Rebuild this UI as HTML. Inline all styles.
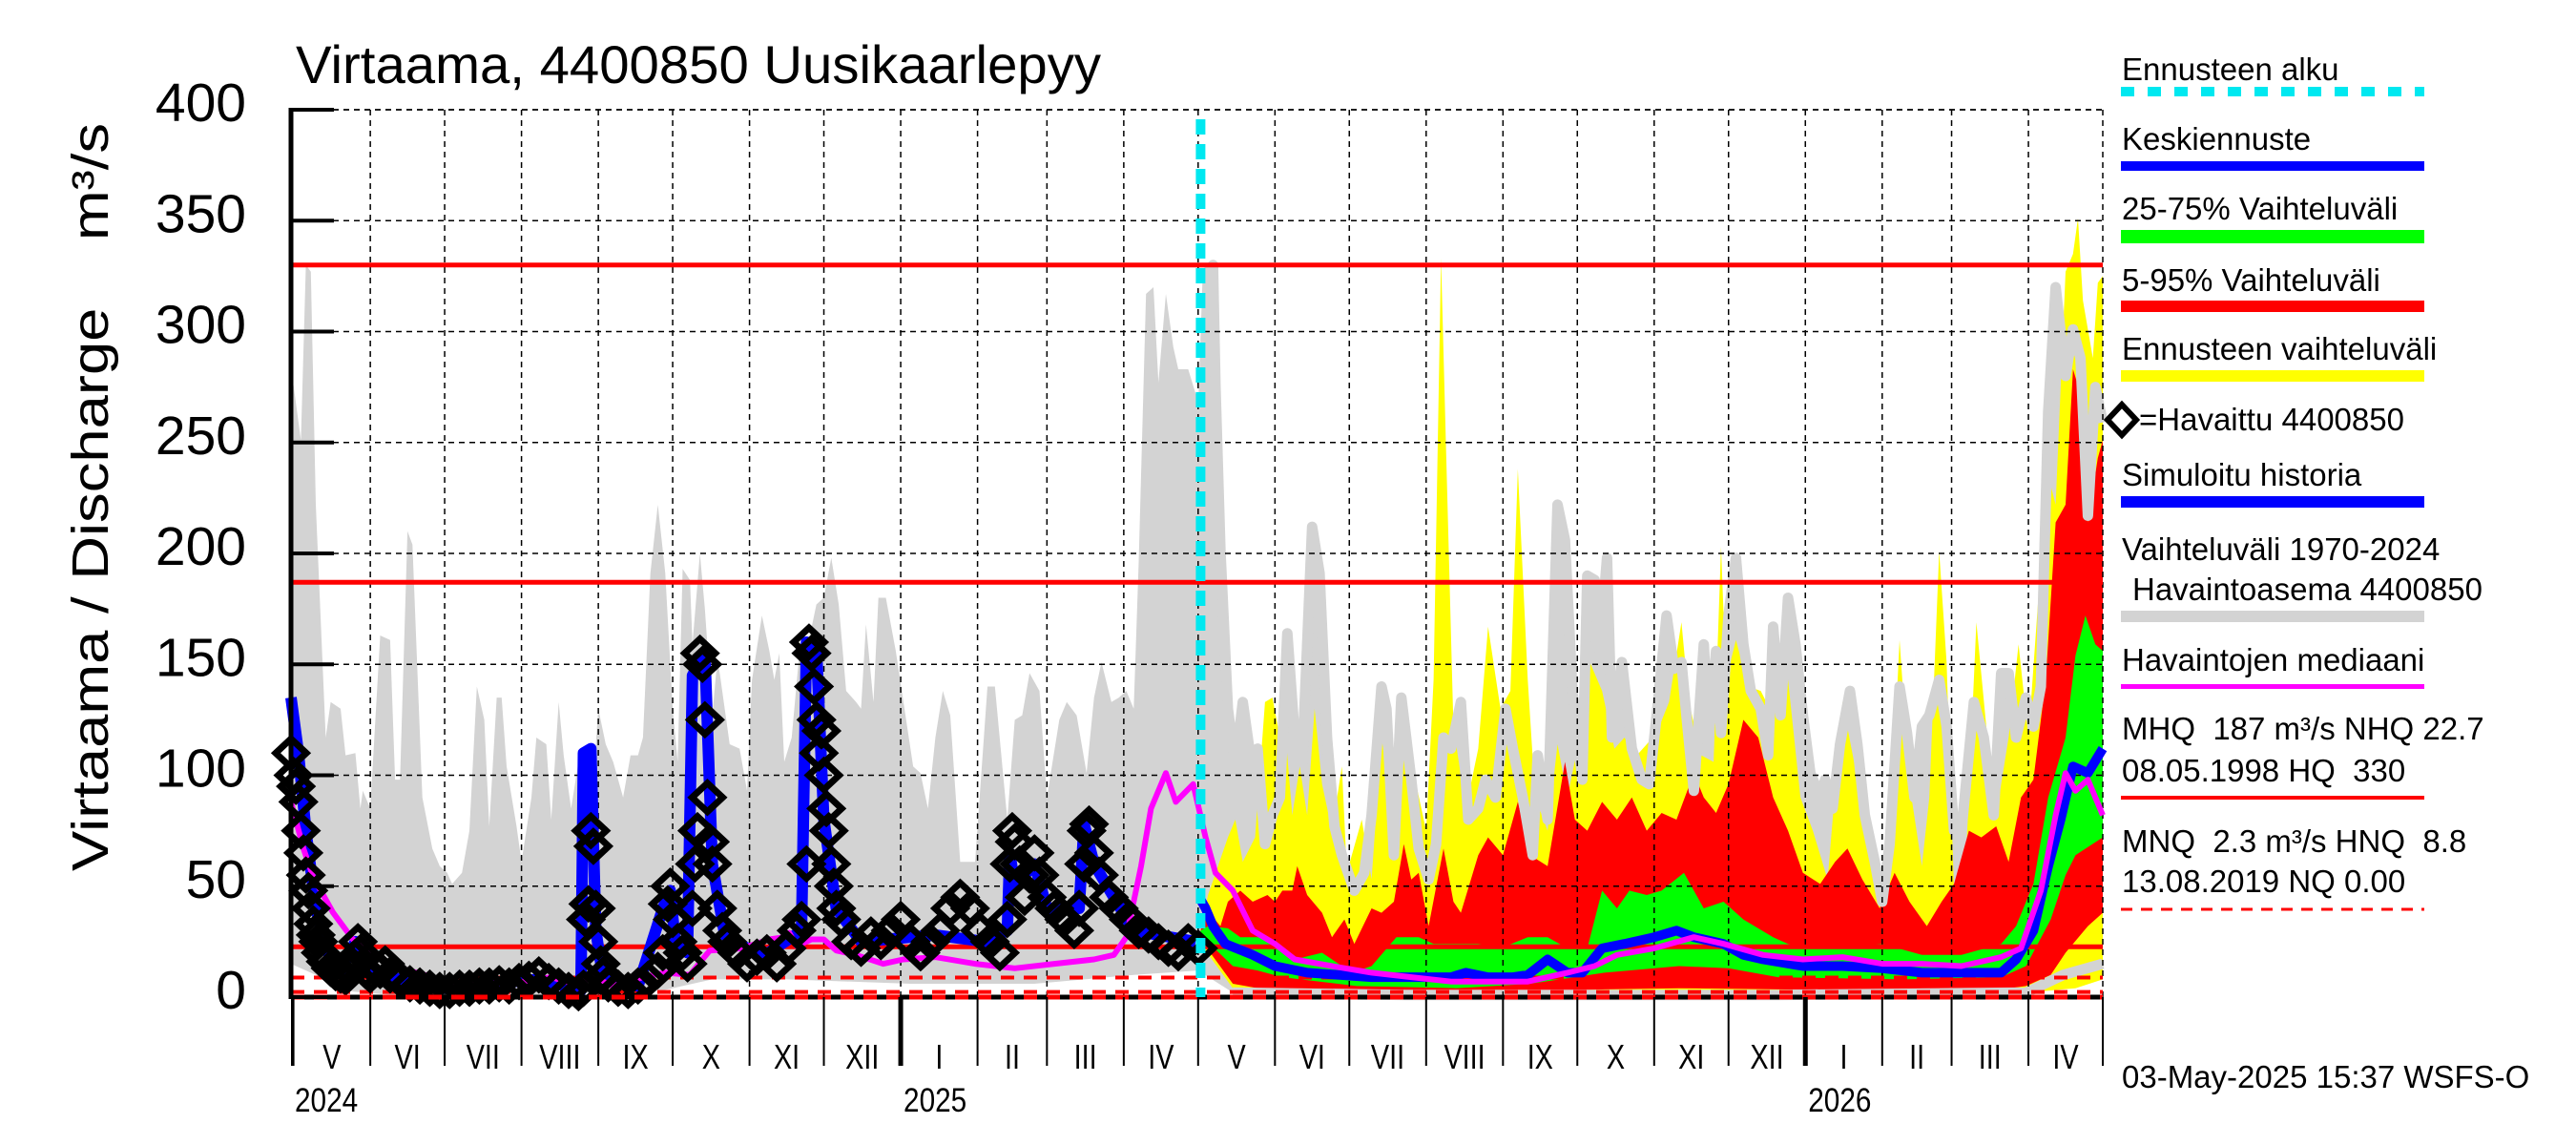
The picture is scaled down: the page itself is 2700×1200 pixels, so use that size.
<!DOCTYPE html>
<html><head><meta charset="utf-8"><title>Virtaama 4400850 Uusikaarlepyy</title>
<style>
html,body{margin:0;padding:0;background:#fff;}
svg{display:block;font-family:"Liberation Sans",sans-serif;}
</style></head>
<body>
<svg id="chart" width="2700" height="1200" viewBox="0 0 2700 1200" xmlns="http://www.w3.org/2000/svg">
<rect x="0" y="0" width="2700" height="1200" fill="#fff"/>
<g id="plot"></g>
<text x="310" y="87" font-size="56" textLength="844" lengthAdjust="spacingAndGlyphs">Virtaama, 4400850 Uusikaarlepyy</text>
<text transform="translate(113,521) rotate(-90)" text-anchor="middle" font-size="54" textLength="784" lengthAdjust="spacingAndGlyphs" xml:space="preserve">Virtaama / Discharge    m³/s</text>
<g id="yticks"></g>
<g id="xticks"></g>
<g id="legend" font-size="33">
  <text x="2224" y="84">Ennusteen alku</text>
  <line x1="2223" y1="96" x2="2541" y2="96" stroke="#00e8f0" stroke-width="10" stroke-dasharray="14,14"/>
  <text x="2224" y="157">Keskiennuste</text>
  <rect x="2223" y="169" width="318" height="10" fill="#0000ff"/>
  <text x="2224" y="230">25-75% Vaihteluväli</text>
  <rect x="2223" y="241" width="318" height="14" fill="#00ff00"/>
  <text x="2224" y="305">5-95% Vaihteluväli</text>
  <rect x="2223" y="315" width="318" height="12" fill="#ff0000"/>
  <text x="2224" y="377">Ennusteen vaihteluväli</text>
  <rect x="2223" y="388" width="318" height="12" fill="#ffff00"/>
  <path d="M2224,424 L2239,440 L2224,456 L2209,440 Z" fill="none" stroke="#000" stroke-width="6"/>
  <text x="2242" y="451">=Havaittu 4400850</text>
  <text x="2224" y="509">Simuloitu historia</text>
  <rect x="2223" y="520" width="318" height="12" fill="#0000ff"/>
  <text x="2224" y="587">Vaihteluväli 1970-2024</text>
  <text x="2235" y="629">Havaintoasema 4400850</text>
  <rect x="2223" y="640" width="318" height="12" fill="#d3d3d3"/>
  <text x="2224" y="703">Havaintojen mediaani</text>
  <rect x="2223" y="717" width="318" height="5" fill="#ff00ff"/>
  <text x="2224" y="775" xml:space="preserve">MHQ  187 m³/s NHQ 22.7</text>
  <text x="2224" y="819" xml:space="preserve">08.05.1998 HQ  330</text>
  <rect x="2223" y="834" width="318" height="4" fill="#ff0000"/>
  <text x="2224" y="893" xml:space="preserve">MNQ  2.3 m³/s HNQ  8.8</text>
  <text x="2224" y="935">13.08.2019 NQ 0.00</text>
  <line x1="2223" y1="953" x2="2541" y2="953" stroke="#ff0000" stroke-width="3" stroke-dasharray="12,9"/>
  <text x="2224" y="1140">03-May-2025 15:37 WSFS-O</text>
</g>
</svg>
<script>
// ---- data (day index from 30.04.2024, values m3/s) ----
const yTickValues = [0,50,100,150,200,250,300,350,400];
const monthLabels = ["V","VI","VII","VIII","IX","X","XI","XII","I","II","III","IV","V","VI","VII","VIII","IX","X","XI","XII","I","II","III","IV"];
const monthStarts = [1,32,62,93,124,154,185,215,246,277,305,336,366,397,427,458,489,519,550,580,611,642,670,701,731];
const yearLabels = ["2024","2025","2026"];
const yearStarts = [1,246,611];
const refLevels = [330,187,22.7];
const refDashedLevels = [8.8,2.3];
const forecastStartDay = 367;

const histMaxDays = [0,1,4,6,8,10,14,16,20,22,26,28,29,32,36,40,42,44,47,49,53,57,60,63,65,69,72,75,78,80,83,85,87,91,93,97,99,103,105,108,110,113,116,119,120,124,127,130,134,137,140,142,145,148,151,154,156,158,161,162,165,167,170,172,173,177,181,184,186,190,193,195,197,199,202,205,209,212,215,218,221,224,228,230,232,235,237,240,244,251,254,257,260,263,266,270,276,281,284,289,292,295,298,302,305,310,313,317,321,324,327,331,334,337,340,342,345,348,350,353,356,358,362,365,368,370,372,373,375,378,381,384,387,390,393,396,399,402,405,408,412,415,418,421,424,429,433,436,440,442,445,448,452,455,459,462,465,468,472,475,479,482,486,490,493,497,501,503,507,511,514,517,521,523,526,528,531,533,537,541,545,548,551,555,558,561,563,566,570,572,575,577,580,583,586,589,593,596,598,601,604,607,610,613,617,619,622,625,629,632,635,639,642,645,649,652,655,658,661,665,668,671,674,679,683,687,690,693,696,700,703,706,709,712,716,719,722,725,728,731];
const histMax = [251,276,251,330,327,222,117,133,130,109,110,85,93,85,163,161,98,98,210,204,90,67,59,56,51,56,75,140,125,77,135,135,104,77,61,90,117,114,80,133,109,85,106,85,64,130,114,106,90,109,109,117,191,222,191,130,106,193,188,159,200,175,127,152,146,114,112,93,143,172,156,143,155,106,117,154,161,177,180,198,177,138,133,130,168,133,180,180,156,104,101,85,117,138,127,61,61,140,140,80,125,127,146,138,90,125,133,127,101,135,151,133,135,138,130,196,317,320,277,317,293,283,283,272,262,327,330,275,201,130,104,133,109,112,69,82,90,164,117,106,212,191,117,77,64,48,56,82,140,130,64,135,98,67,53,69,117,112,133,80,85,98,90,130,112,90,64,109,80,222,206,138,98,190,188,156,198,117,151,112,98,96,127,172,148,151,127,93,159,117,156,119,172,198,159,138,130,109,167,127,180,159,127,101,90,98,85,114,138,114,82,61,43,69,140,119,90,122,127,143,122,75,75,133,117,82,146,146,117,135,122,140,264,320,280,301,288,217,275,259];
const histMinDays = [0,10,20,40,100,150,170,200,250,300,340,366,380,450,600,700,715,731];
const histMin = [15,10,3,1,1,3,8,8,6,6,10,12,2,1,1,2,10,15];

const obsDays = [0,1,2,3,4,5,6,7,8,9,10,11,12,14,16,18,20,22,24,26,27,28,30,32,34,36,38,40,44,48,52,56,60,64,68,72,76,80,84,88,92,96,100,104,108,112,116,118,119,120,121,122,123,124,125,126,128,132,136,140,144,148,150,152,153,154,156,158,160,162,163,164,165,166,167,168,169,170,172,174,176,180,184,188,192,196,200,204,206,208,209,210,211,212,213,214,215,216,217,218,219,220,222,226,230,234,238,242,246,250,254,258,262,266,270,274,278,282,286,289,290,291,292,294,296,298,300,302,305,308,312,316,318,320,321,322,324,326,330,334,338,342,346,350,354,358,362,366];
const obsValues = [110,100,95,88,75,65,55,48,40,33,28,25,20,16,13,11,10,9,12,18,25,20,12,10,13,12,15,10,8,6,5,4,3,3,4,4,5,5,6,5,7,8,10,7,5,3,2,4,35,42,75,68,40,25,15,10,6,4,3,5,8,12,20,42,50,35,25,20,15,40,60,75,155,150,125,90,70,60,40,30,25,20,15,18,20,15,22,30,35,60,160,155,140,125,110,120,100,85,75,60,50,40,35,25,22,28,25,30,35,25,20,25,30,40,45,40,30,25,20,35,60,75,70,60,45,55,65,55,45,40,35,30,40,60,75,78,65,55,45,40,35,30,28,25,22,20,25,22];

const simDays = [0,3,6,10,15,20,26,30,40,60,100,117,118,121,123,126,140,150,153,155,160,162,167,170,175,190,206,208,212,215,220,230,260,280,289,290,292,300,305,318,320,324,340,365];
const simValues = [135,110,75,40,20,12,25,12,9,4,8,3,110,112,30,8,5,40,48,25,20,145,155,60,28,18,30,160,158,80,40,25,28,25,30,65,50,60,40,40,78,60,30,25];

const medianDays = [0,5,9,17,25,33,44,54,62,78,94,105,114,122,130,142,151,161,166,169,182,193,199,201,204,210,215,220,228,239,247,260,276,292,308,324,332,337,343,347,353,357,364,369,373,380,388,397,405,420,436,452,468,483,499,515,526,535,550,566,578,594,610,626,642,658,674,690,698,706,712,716,720,725,731];
const medianValues = [88,67,54,38,26,19,13,10,6,6,7,9,6,9,5,9,11,10,17,21,22,26,27,29,23,26,26,21,19,15,17,18,15,13,15,17,19,27,59,85,101,88,96,72,56,48,30,24,17,14,11,9,7,7,7,11,14,19,22,27,24,19,17,18,15,15,14,18,22,48,82,101,93,98,82];

const fcMaxDays = [367,370,378,381,384,389,393,396,399,401,404,407,410,413,416,420,424,426,432,436,440,445,448,453,458,461,464,466,469,474,479,483,488,492,495,499,502,507,511,515,519,524,529,534,538,543,547,551,556,561,564,569,574,577,579,583,588,593,598,604,609,614,620,626,631,636,641,645,649,653,658,661,665,668,671,676,680,684,688,693,697,701,706,709,712,716,719,721,723,727,729,731];
const fcMax = [32,46,72,80,61,72,133,135,117,122,82,104,82,130,96,75,104,56,80,53,117,80,119,101,75,143,333,248,122,85,112,167,130,138,238,143,90,75,114,90,112,151,138,112,117,109,114,119,133,169,133,109,106,203,143,161,140,138,127,143,90,75,53,133,104,80,43,69,161,96,59,90,201,151,48,67,169,122,82,117,159,117,196,235,222,327,335,351,314,288,322,325];
const p95Days = [367,369,375,378,383,388,394,397,400,404,406,410,416,420,425,429,436,440,445,449,452,455,459,465,469,472,479,483,489,495,500,507,514,518,523,529,535,541,547,553,559,566,570,575,580,586,592,598,604,610,617,623,628,634,641,647,653,660,666,671,677,682,688,693,698,703,708,712,716,719,722,725,729,731];
const p95 = [30,40,32,43,48,43,46,43,48,48,59,46,38,27,35,24,40,38,43,69,53,56,32,67,43,38,64,72,64,88,64,59,106,80,75,88,80,90,75,83,80,101,90,83,96,125,117,90,75,56,51,61,67,53,40,56,43,32,43,51,75,72,77,61,90,98,143,214,222,283,272,214,243,251];
const p75Days = [367,370,378,383,391,397,405,416,428,436,446,455,461,471,479,488,499,507,515,523,529,535,540,547,553,562,570,578,586,598,604,610,626,642,658,674,690,696,703,709,716,720,724,728,731];
const p75 = [30,32,31,27,27,24,17,20,11,14,27,27,24,24,24,22,27,27,22,22,48,40,48,46,48,56,40,43,35,27,24,22,22,24,19,19,24,32,51,90,117,154,172,159,156];
const p25Days = [367,380,390,400,430,470,500,530,560,580,600,650,690,700,710,716,720,731];
const p25 = [28,14,12,9,5,4,6,11,14,13,9,8,9,14,35,55,64,72];
const p5Days = [367,380,400,450,500,530,560,600,650,690,700,710,716,725,731];
const p5 = [26,6,2,1.5,2.5,3.5,4,3.5,3,3.5,5,10,20,32,38];
const fcMinDays = [367,380,400,450,500,600,700,720,731];
const fcMin = [24,4,1,0.5,1,1,2,4,8];
const fcMeanDays = [367,369,372,377,388,397,410,423,436,452,468,474,483,493,499,507,515,521,529,538,550,559,566,578,586,594,610,626,642,658,674,690,696,703,709,714,719,725,731];
const fcMean = [44,40,32,24,19,14,11,10,9,9,9,11,9,9,10,17,11,11,22,24,27,30,27,24,19,17,14,14,13,11,11,11,17,30,59,80,104,101,112];

// ---- axes ----
const X0=305, X1=2204, Y0=1045, Y1=115, DMAX=731, VMAX=400;
function X(d){return X0+(X1-X0)*d/DMAX;}
function Y(v){return Y0-(Y0-Y1)*v/VMAX;}
const NS="http://www.w3.org/2000/svg";
const plot=document.getElementById('plot');
function mk(tag,attrs,parent){const e=document.createElementNS(NS,tag);for(const k in attrs)e.setAttribute(k,attrs[k]);(parent||plot).appendChild(e);return e;}
function pts(days,vals){return days.map((d,i)=>X(d).toFixed(1)+","+Y(vals[i]).toFixed(1));}
function band(daysTop,top,daysBot,bot,color,name){
  const a=pts(daysTop,top); const b=pts(daysBot,bot).reverse();
  const p=mk('polygon',{points:a.concat(b).join(' '),fill:color});
  
  
}
function line(days,vals,color,w,name){
  const p=mk('polyline',{points:pts(days,vals).join(' '),fill:'none',stroke:color,'stroke-width':w,'stroke-linejoin':'round'});
  
  
}

band(histMaxDays,histMax,histMinDays,histMin,'#d3d3d3','historical-range-band');
band(fcMaxDays,fcMax,fcMinDays,fcMin,'#ffff00','forecast-range-band');
band(p95Days,p95,p5Days,p5,'#ff0000','band-5-95');
band(p75Days,p75,p25Days,p25,'#00ff00','band-25-75');
(function(){
  const fd=[],fv=[];
  histMaxDays.forEach((d,i)=>{if(d>=forecastStartDay-2){fd.push(d);fv.push(histMax[i]);}});
  line(fd,fv,'#d3d3d3',11,'historical-max-line');
  const md=[],mv=[];
  histMinDays.forEach((d,i)=>{if(d>=forecastStartDay){md.push(d);mv.push(histMin[i]);}});
  line(md,mv,'#d3d3d3',11,'historical-min-line');
})();

for(let i=0;i<yTickValues.length;i++){
  const v=yTickValues[i]; if(v===0) continue;
  const g=mk('line',{x1:X0,x2:X1,y1:Y(v),y2:Y(v),stroke:'#000','stroke-width':1.5,'stroke-dasharray':'6,5'});
  
  
}
for(let i=1;i<monthStarts.length-1;i++){
  const x=X(monthStarts[i]);
  const g=mk('line',{x1:x,x2:x,y1:Y1,y2:Y0,stroke:'#000','stroke-width':1.5,'stroke-dasharray':'6,5'});
  
  
}
const rb=mk('line',{x1:X1,x2:X1,y1:Y1,y2:Y0,stroke:'#000','stroke-width':1.5,'stroke-dasharray':'6,5'});


const tb=mk('line',{x1:X0,x2:X1,y1:Y1,y2:Y1,stroke:'#000','stroke-width':1.5,'stroke-dasharray':'6,5'});



refLevels.forEach(v=>{
  const l=mk('line',{x1:X0,x2:X1,y1:Y(v),y2:Y(v),stroke:'#ff0000','stroke-width':5});
  
  
});
refDashedLevels.forEach(v=>{
  const l=mk('line',{x1:X0,x2:X1,y1:Y(v),y2:Y(v),stroke:'#ff0000','stroke-width':4,'stroke-dasharray':'14,10'});
  
  
});

line(simDays,simValues,'#0000ff',12,'simulated-history-line');
line(fcMeanDays,fcMean,'#0000ff',10,'mean-forecast-line');
line(medianDays,medianValues,'#ff00ff',6,'observed-median-line');

obsDays.forEach((d,i)=>{
  const x=X(d), y=Y(obsValues[i]);
  const p=mk('path',{d:`M${x},${y-15} L${x+16},${y} L${x},${y+15} L${x-16},${y} Z`,fill:'none',stroke:'#000','stroke-width':7});
  
  
});

const z1=mk('line',{x1:X0,x2:X1,y1:Y(0),y2:Y(0),stroke:'#000','stroke-width':5});


const z2=mk('line',{x1:X0,x2:X1,y1:Y(0),y2:Y(0),stroke:'#ff0000','stroke-width':5,'stroke-dasharray':'14,10'});



const fs=mk('line',{x1:X(forecastStartDay),x2:X(forecastStartDay),y1:Y1+10,y2:Y0,stroke:'#00e8f0','stroke-width':10,'stroke-dasharray':'16,10'});



const la=mk('line',{x1:X0,x2:X0,y1:Y1-2,y2:Y0+2,stroke:'#000','stroke-width':5});


const yt=document.getElementById('yticks');
yTickValues.forEach(v=>{
  const t=mk('line',{x1:X0,x2:X0+45,y1:Y(v),y2:Y(v),stroke:'#000','stroke-width':4});
  
  
  const tx=mk('text',{x:258,y:Y(v)+12,'text-anchor':'end','font-size':57},yt);
  tx.textContent=String(v);
  
  
});

const xt=document.getElementById('xticks');
const t0=mk('line',{x1:X0+1,x2:X0+1,y1:Y0,y2:1117,stroke:'#000','stroke-width':2});


monthStarts.forEach((d,i)=>{
  const isYear=yearStarts.indexOf(d)>0;
  const t=mk('line',{x1:X(d),x2:X(d),y1:Y0,y2:1117,stroke:'#000','stroke-width':isYear?5:2});
  
  
  if(i<monthLabels.length){
    const xm=(X(d)+X(monthStarts[i+1]))/2;
    const tx=mk('text',{x:xm,y:1120,'text-anchor':'middle','font-size':36,transform:`translate(${xm},0) scale(0.8,1) translate(${-xm},0)`},xt);
    tx.textContent=monthLabels[i];
    
    
  }
});
yearLabels.forEach((y,i)=>{
  const x=i===0?309:X(yearStarts[i])+3;
  const tx=mk('text',{x:x,y:1165,'font-size':35,transform:`translate(${x},0) scale(0.85,1) translate(${-x},0)`},xt);
  tx.textContent=y;
  
  
});
</script>
</body></html>
